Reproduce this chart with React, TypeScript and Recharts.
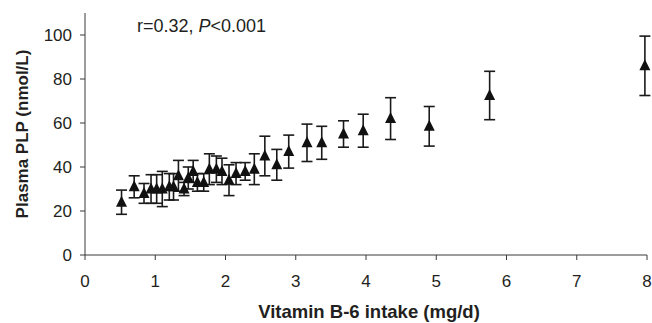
import { ScatterChart, Scatter, XAxis, YAxis, ErrorBar, Label } from "recharts"

// Vitamin B-6 intake (mg/d), mean plasma PLP (nmol/L) and its error bar half-length
const intake = [0.52, 0.7, 0.84, 0.94, 1.02, 1.1, 1.2, 1.26, 1.33, 1.41, 1.47, 1.54, 1.6, 1.69, 1.77, 1.87, 1.95, 2.05, 2.15, 2.28, 2.41, 2.56, 2.73, 2.9, 3.16, 3.37, 3.68, 3.96, 4.35, 4.9, 5.76, 7.97]
const plp = [24, 31, 28, 30, 30, 30, 31, 31, 36, 30, 35, 38, 33, 33, 39, 39, 38, 34, 37, 38, 39, 45, 41, 47, 51, 51, 55, 56.5, 62, 58.5, 72.5, 86]
const plpErr = [5.5, 5, 4.5, 6.5, 6.5, 8, 6, 6, 7, 3, 5, 5, 4, 4, 7, 6, 6, 7, 5, 4, 7, 9, 7, 7.5, 8.5, 7.5, 6, 7.5, 9.5, 9, 11, 13.5]

const xTicks = [0, 1, 2, 3, 4, 5, 6, 7, 8]
const yTicks = [0, 20, 40, 60, 80, 100]

const FONT = "'Liberation Sans', Arial, Helvetica, sans-serif"
const INK = "#231f20"
const AXIS = "#3a3a3a"

const points = intake.map((x, i) => ({ x, y: plp[i], err: plpErr[i] }))

// filled triangle marker
function Triangle(props: any) {
  const { cx, cy } = props
  if (cx == null || cy == null) return null
  return <path d={`M${cx},${cy - 6.5}L${cx + 5.5},${cy + 4.5}L${cx - 5.5},${cy + 4.5}Z`} fill="#111" />
}

function YTitle(props: any) {
  const vb = props.viewBox || {}
  const x = vb.x + 22
  const y = vb.y + vb.height / 2
  return (
    <text
      x={x}
      y={y}
      transform={`rotate(-90, ${x}, ${y})`}
      textAnchor="middle"
      dominantBaseline="central"
      fontFamily={FONT}
      fontWeight="bold"
      fontSize={17}
      fill={INK}
    >
      Plasma PLP (nmol/L)
    </text>
  )
}

function XTitle(props: any) {
  const vb = props.viewBox || {}
  return (
    <text
      x={vb.x + vb.width / 2 + 3}
      y={vb.y + 56}
      textAnchor="middle"
      dominantBaseline="central"
      fontFamily={FONT}
      fontWeight="bold"
      fontSize={18.5}
      fill={INK}
    >
      Vitamin B-6 intake (mg/d)
    </text>
  )
}

export default function App() {
  return (
    <div style={{ position: "relative", width: 652, height: 323, background: "#fff" }}>
      <style>{`body{margin:0}`}</style>
      <ScatterChart width={652} height={323} margin={{ top: 13, right: 5, left: 0, bottom: 0 }}>
        <XAxis
          type="number"
          dataKey="x"
          domain={[0, 8]}
          ticks={xTicks}
          height={68}
          tickSize={5}
          tickMargin={15}
          stroke={AXIS}
          tick={{ fill: INK, fontSize: 17, fontFamily: FONT }}
        >
          <Label content={<XTitle />} />
        </XAxis>
        <YAxis
          type="number"
          dataKey="y"
          domain={[0, 110]}
          ticks={yTicks}
          width={85}
          tickSize={5}
          tickMargin={8}
          stroke={AXIS}
          tick={{ fill: INK, fontSize: 17, fontFamily: FONT }}
        >
          <Label content={<YTitle />} />
        </YAxis>
        <Scatter data={points} shape={<Triangle />} isAnimationActive={false}>
          <ErrorBar dataKey="err" direction="y" width={5.5} stroke="#1a1a1a" strokeWidth={1.6} />
        </Scatter>
      </ScatterChart>
      <svg width={652} height={323} style={{ position: "absolute", left: 0, top: 0, pointerEvents: "none" }}>
        <text x={137} y={31.5} fontFamily={FONT} fontSize={18} fill={INK}>
          r=0.32, <tspan fontStyle="italic">P</tspan>&lt;0.001
        </text>
      </svg>
    </div>
  )
}
